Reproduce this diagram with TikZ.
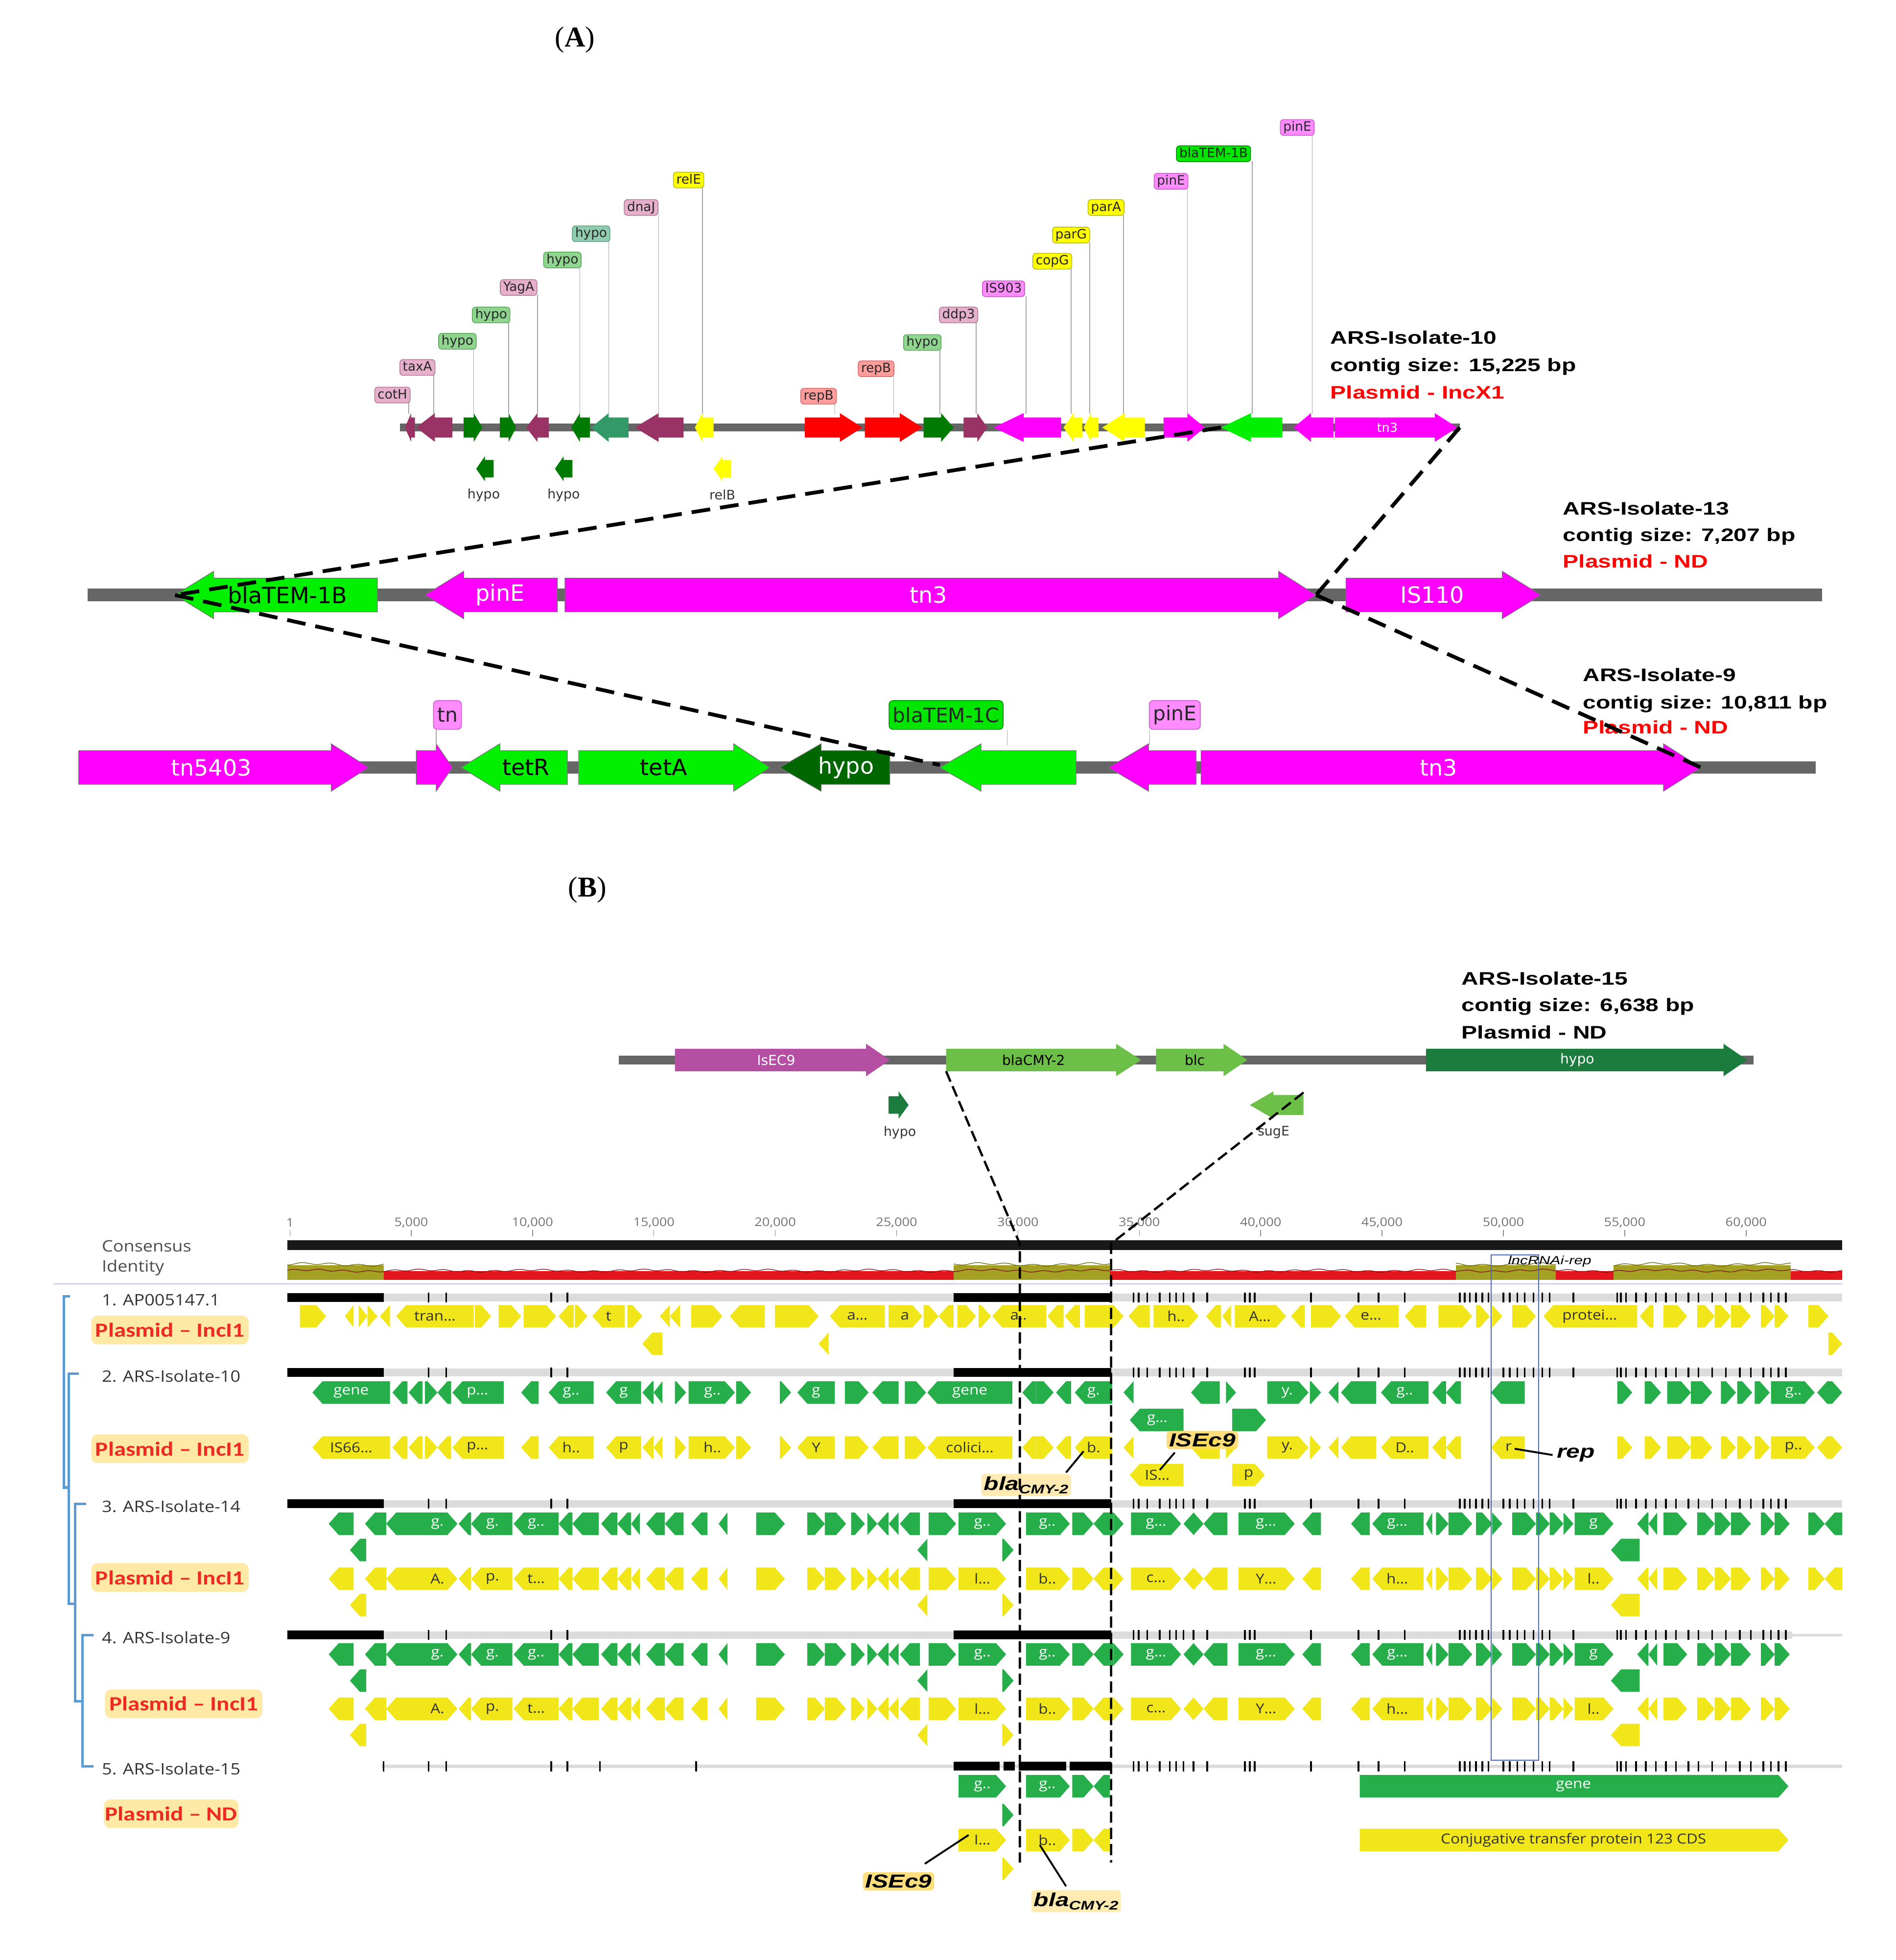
\documentclass[tikz,border=0pt]{standalone}
\usepackage{fontspec}
\setmainfont{Liberation Serif}
\newfontfamily\labfont{DejaVu Sans}
\newfontfamily\isofont[FakeStretch=1.3]{Liberation Sans}
\newfontfamily\gfont[FakeStretch=1.12]{Open Sans}
\newfontfamily\tagfont[FakeStretch=1.2]{Carlito}
\usetikzlibrary{calc}

% panel A colours
\definecolor{bbgrey}{HTML}{666666}
\definecolor{gmaroon}{HTML}{993366}
\definecolor{gdkgreen}{HTML}{007A00}
\definecolor{ghypo}{HTML}{006600}
\definecolor{gteal}{HTML}{339966}
\definecolor{gyellow}{HTML}{FFFF00}
\definecolor{gred}{HTML}{FF0000}
\definecolor{gmagenta}{HTML}{FF00FF}
\definecolor{glime}{HTML}{00F000}
\definecolor{labpink}{HTML}{E6B0CC}\definecolor{labpinkd}{HTML}{B07A96}
\definecolor{labgreen}{HTML}{8FD48F}\definecolor{labgreend}{HTML}{5AA85A}
\definecolor{labteal}{HTML}{8FCCB0}\definecolor{labteald}{HTML}{5A9C80}
\definecolor{labyellow}{HTML}{FFFF00}\definecolor{labyellowd}{HTML}{B8B800}
\definecolor{labred}{HTML}{FF9C9C}\definecolor{labredd}{HTML}{E06666}
\definecolor{labmag}{HTML}{FF8CFF}\definecolor{labmagd}{HTML}{CC55CC}
\definecolor{lablime}{HTML}{00E600}\definecolor{lablimed}{HTML}{008800}
\definecolor{isored}{HTML}{FF0000}
% panel B colours
\definecolor{bIs}{HTML}{B44FA4}
\definecolor{bCmy}{HTML}{6CBF47}
\definecolor{bHypo}{HTML}{1C7C3E}
\definecolor{cdsY}{HTML}{F0E619}
\definecolor{cdsG}{HTML}{26AE4B}
\definecolor{seqgrey}{HTML}{DCDCDC}
\definecolor{idred}{HTML}{E3161E}
\definecolor{idolive}{HTML}{A3A024}
\definecolor{treeblue}{HTML}{5B9BD5}
\definecolor{tagbg}{HTML}{FFE9A6}
\definecolor{tagred}{HTML}{EE2A24}
\definecolor{callbg}{HTML}{FFD966}
\definecolor{boxblue}{HTML}{4A66B8}

% gene arrows: x1, x2, y, half body, half head, head length, style
\newcommand{\fgene}[7]{\path[#7] (#1,#3-#4) -- (#2-#6,#3-#4) -- (#2-#6,#3-#5) -- (#2,#3) -- (#2-#6,#3+#5) -- (#2-#6,#3+#4) -- (#1,#3+#4) -- cycle;}
\newcommand{\rgene}[7]{\path[#7] (#2,#3-#4) -- (#1+#6,#3-#4) -- (#1+#6,#3-#5) -- (#1,#3) -- (#1+#6,#3+#5) -- (#1+#6,#3+#4) -- (#2,#3+#4) -- cycle;}
% alignment annotations: x1, x2, y, r/l, colour
\newcommand{\cds}[5]{%
  \pgfmathsetmacro\cdstip{min(8,#2-#1)}%
  \if r#4\relax
    \fill[#5] (#1,#3-9) -- (#2-\cdstip,#3-9) -- (#2,#3) -- (#2-\cdstip,#3+9) -- (#1,#3+9) -- cycle;
  \else
    \fill[#5] (#2,#3-9) -- (#1+\cdstip,#3-9) -- (#1,#3) -- (#1+\cdstip,#3+9) -- (#2,#3+9) -- cycle;
  \fi}
% sequence bar ticks
\newcommand{\seqticks}[1]{%
  \foreach \t in {343,357,441,454,907,911,918,928,936,941,947,955,966,996,1000,1004,1049,1087,1103,1124,1168,1172,1176,1181,1186,1191,1203,1208,1214,1220,1227,1234,1240,1259,1294,1297,1301,1309,1317,1325,1333,1341,1351,1359,1370,1381,1392,1401,1411,1417,1423,1429}
    {\fill[black] (\t-0.7,#1-4) rectangle (\t+0.7,#1+4);}}

\begin{document}
\begin{tikzpicture}[x=1pt,y=-1pt,>=latex,
	zoomline/.style={black,line width=3pt,dash pattern=on 15pt off 8pt},
	cutline/.style={black,line width=1.8pt,dash pattern=on 9pt off 4pt},
	pin/.style={draw=gray!70,line width=0.6pt},
	agene/.style={draw=black!55,line width=0.5pt},
	lbl/.style={draw,rounded corners=2.5pt,inner xsep=2.3pt,inner ysep=1.2pt,line width=0.6pt,
		text height=8pt,text depth=2.2pt,font=\labfont\fontsize{10.3}{11}\selectfont,text=black!85},
	biglbl/.style={draw,rounded corners=3pt,inner xsep=3pt,line width=0.6pt,minimum height=23pt,
		font=\labfont\fontsize{16}{17}\selectfont,text=black!85},
	pinklab/.style={fill=labpink,draw=labpinkd},
	greenlab/.style={fill=labgreen,draw=labgreend},
	teallab/.style={fill=labteal,draw=labteald},
	yellab/.style={fill=labyellow,draw=labyellowd},
	redlab/.style={fill=labred,draw=labredd},
	maglab/.style={fill=labmag,draw=labmagd},
	limelab/.style={fill=lablime,draw=lablimed},
	intxt/.style={font=\labfont\fontsize{18}{20}\selectfont},
	smalltxt/.style={font=\labfont\fontsize{10.5}{11}\selectfont,text=black!80},
	isotxt/.style={anchor=base west,font=\isofont\bfseries\fontsize{14.5}{17}\selectfont},
	ruler/.style={font=\gfont\fontsize{9.5}{10}\selectfont,text=black!55},
	tracklab/.style={anchor=west,font=\gfont\fontsize{12.6}{14}\selectfont,text=black!80},
	glab/.style={font=\gfont\fontsize{11}{12}\selectfont,text=white},
	ylab/.style={font=\gfont\fontsize{11}{12}\selectfont,text=black!80},
	plastag/.style={fill=tagbg,rounded corners=5pt,minimum width=126pt,minimum height=23pt,inner sep=1pt,
		font=\tagfont\bfseries\fontsize{16}{17}\selectfont,text=tagred},
	callout/.style={fill=callbg,fill opacity=0.85,text opacity=1,rounded corners=3pt,inner sep=2pt,
		font=\isofont\bfseries\itshape\fontsize{15}{16}\selectfont},
	tree/.style={draw=treeblue,line width=2pt},
]
\useasboundingbox (0,0) rectangle (1517,1568);

%%%%%%%%%%%%%%%%%%%% (A)
\node[font=\fontsize{23}{25}\selectfont] (titleA) at (460,32) {(\textbf{A})};

% ARS-Isolate-10
\draw[bbgrey,line width=6pt] (320,342) -- (1168,342);
\foreach \a/\b/\h/\c in {644/690/18/gred, 692/738/18/gred, 739/763/10/gdkgreen, 771/790/8/gmaroon,
	931/964/14/gmagenta, 1068/1166/18/gmagenta, 371/386/7/gdkgreen, 400/413/6/gdkgreen}
	{\fgene{\a}{\b}{342}{8}{11.5}{\h}{fill=\c}}
\foreach \a/\b/\h/\c in {324/332/5/gmaroon, 333/362/15/gmaroon, 421/439/9/gmaroon, 457/472/7/gdkgreen,
	473/503/14/gteal, 508/547/19/gmaroon, 556/571/6/gyellow, 795/849/24/gmagenta, 851/866/8/gyellow,
	867/879/6/gyellow, 882/916/18/gyellow, 977/1026/24/glime, 1035/1067/14/gmagenta}
	{\rgene{\a}{\b}{342}{8}{11.5}{\h}{fill=\c}}
\node[font=\labfont\fontsize{10}{11}\selectfont,text=white] (tnthree) at (1110,342) {tn3};
% genes on the second strand
\foreach \a/\b/\c in {381/395/gdkgreen, 444/458/gdkgreen, 571/585/gyellow}
	{\rgene{\a}{\b}{375}{7}{10}{7}{fill=\c}}
\node[smalltxt] (hypoA) at (387,396) {hypo};
\node[smalltxt] (hypoB) at (451,396) {hypo};
\node[smalltxt] (relB) at (578,396) {relB};
% gene tags
\foreach \cx/\cy/\lx/\txt/\sty [count=\i] in {314/316/327/cotH/pinklab, 334/294/347/taxA/pinklab,
	366/273/379/hypo/greenlab, 393/252/407/hypo/greenlab, 415/230/430/YagA/pinklab,
	450/208/464/hypo/greenlab, 473/187/487/hypo/teallab, 513/166/527/dnaJ/pinklab,
	551/144/562/relE/yellab, 655/317/668/repB/redlab, 701/295/715/repB/redlab,
	738/274/752/hypo/greenlab, 767/252/781/ddp3/pinklab, 803/231/821/IS903/maglab,
	842/209/857/copG/yellab, 857/188/872/parG/yellab, 885/166/899/parA/yellab,
	937/145/950/pinE/maglab, 971/123/1002/blaTEM-1B/limelab, 1038/102/1050/pinE/maglab}{
	\draw[pin] (\lx,\cy+6) -- (\lx,331);
	\node[lbl,\sty] (tag\i) at (\cx,\cy) {\txt};
}
\node[isotxt] (tenName) at (1061,275) {ARS-Isolate-10};
\node[isotxt] (tenSize) at (1061,297) {contig size: 15,225 bp};
\node[isotxt,text=isored] (tenInc) at (1061,319) {Plasmid - IncX1};

% ARS-Isolate-13
\draw[bbgrey,line width=10pt] (70,476) -- (1458,476);
\rgene{140}{302}{476}{13.5}{19}{31}{agene,fill=glime}
\rgene{340}{446}{476}{13.5}{19}{31}{agene,fill=gmagenta}
\fgene{452}{1053}{476}{13.5}{19}{30}{agene,fill=gmagenta}
\fgene{1077}{1233}{476}{13.5}{19}{31}{agene,fill=gmagenta}
\node[intxt] (thirTemTxt) at (230,476) {blaTEM-1B};
\node[intxt,text=white] (thirPinTxt) at (400,476) {pinE};
\node[intxt,text=white] (thirTnTxt) at (743,476) {tn3};
\node[intxt,text=white] (thirIsTxt) at (1146,476) {IS110};
\node[isotxt] (thirName) at (1247,412) {ARS-Isolate-13};
\node[isotxt] (thirSize) at (1247,433) {contig size: 7,207 bp};
\node[isotxt,text=isored] (thirInc) at (1247,454) {Plasmid - ND};

% ARS-Isolate-9
\draw[bbgrey,line width=10pt] (63,614) -- (1453,614);
\fgene{63}{295}{614}{13.5}{19}{30}{agene,fill=gmagenta}
\fgene{333}{362}{614}{13.5}{19}{13}{agene,fill=gmagenta}
\rgene{369}{454}{614}{13.5}{19}{31}{agene,fill=glime}
\fgene{463}{616}{614}{13.5}{19}{29}{agene,fill=glime}
\rgene{624}{712}{614}{13.5}{19}{33}{agene,fill=ghypo}
\rgene{752}{861}{614}{13.5}{19}{33}{agene,fill=glime}
\rgene{887}{957}{614}{13.5}{19}{32}{agene,fill=gmagenta}
\fgene{961}{1361}{614}{13.5}{19}{30}{agene,fill=gmagenta}
\node[intxt,text=white] (nineTnTxt) at (169,614) {tn5403};
\node[intxt] (nineTetR) at (421,614) {tetR};
\node[intxt] (nineTetA) at (531,614) {tetA};
\node[intxt,text=white] (nineHypo) at (677,614) {hypo};
\node[intxt,text=white] (nineTnThree) at (1151,614) {tn3};
\foreach \cx/\lx/\txt/\sty [count=\i] in {358/349/tn/maglab, 757/806/blaTEM-1C/limelab, 940/920/pinE/maglab}{
	\draw[pin] (\lx,584) -- (\lx,596);
	\node[biglbl,\sty] (nineTag\i) at (\cx,572) {\txt};
}
\node[isotxt] (nineName) at (1263,545) {ARS-Isolate-9};
\node[isotxt] (nineSize) at (1263,567) {contig size: 10,811 bp};
\node[isotxt,text=isored] (nineInc) at (1263,587) {Plasmid - ND};

% zoom lines between the contigs
\coordinate (tenTem) at (977,342);
\coordinate (tenEnd) at (1168,342);
\coordinate (thirTem) at (140,476);
\coordinate (thirTn) at (1053,476);
\coordinate (nineTem) at (752,612);
\coordinate (nineTn) at (1361,614);
\draw[zoomline] (tenTem) -- (thirTem);
\draw[zoomline] (tenEnd) -- (thirTn);
\draw[zoomline] (thirTem) -- (nineTem);
\draw[zoomline] (thirTn) -- (nineTn);

%%%%%%%%%%%%%%%%%%%% (B)
\node[font=\fontsize{23}{25}\selectfont] (titleB) at (470,712) {(\textbf{B})};

% ARS-Isolate-15
\draw[bbgrey,line width=7pt] (495,848) -- (1403,848);
\fgene{540}{712}{848}{9}{13}{19}{fill=bIs}
\fgene{757}{913}{848}{9}{13}{20}{fill=bCmy}
\fgene{925}{998}{848}{9}{13}{19}{fill=bCmy}
\fgene{1141}{1398}{848}{9}{13}{19}{fill=bHypo}
\fgene{711}{727}{884}{7}{11}{8}{fill=bHypo}
\rgene{1000}{1043}{884}{8}{11}{19}{fill=bCmy}
\node[font=\labfont\fontsize{11}{12}\selectfont,text=white] (fifIs) at (621,848) {IsEC9};
\node[font=\labfont\fontsize{11}{12}\selectfont] (fifCmy) at (827,848) {blaCMY-2};
\node[font=\labfont\fontsize{11}{12}\selectfont] (fifBlc) at (956,848) {blc};
\node[font=\labfont\fontsize{11}{12}\selectfont,text=white] (fifHypo) at (1262,848) {hypo};
\node[smalltxt] (fifHypoS) at (720,906) {hypo};
\node[smalltxt] (fifSugE) at (1019,906) {sugE};
\node[isotxt] (fifName) at (1166,788) {ARS-Isolate-15};
\node[isotxt] (fifSize) at (1166,809) {contig size: 6,638 bp};
\node[isotxt] (fifInc) at (1166,831) {Plasmid - ND};

% ruler, consensus and identity
\node[ruler] (r1) at (232,978) {1};
\draw[black!45,line width=0.6pt] (232,984) -- (232,989);
\foreach \k [evaluate={\rx=329+(\k-5)*97.1/5}] in {5,10,...,60}{
	\node[ruler] (r\k) at (\rx,978) {\k,000};
	\draw[black!45,line width=0.6pt] (\rx,984) -- (\rx,989);
}
\fill[black!90] (230,992) rectangle (1474,1000);
\fill[idred] (230,1017) rectangle (1474,1024);
\foreach \a/\b in {230/307, 763/888, 1165/1245, 1291/1433}
	{\fill[idolive] (\a,1012) rectangle (\b,1024);}
\draw[idred!55!black,line width=0.5pt] plot[domain=230:1474,samples=500]
	(\x,{1016.5+1.3*sin(11*\x)*cos(7*\x)});
\foreach \a/\b in {230/307, 763/888, 1165/1245, 1291/1433}
	{\draw[idolive!60!black,line width=0.5pt] plot[domain=\a:\b,samples=120]
		(\x,{1011.5+1.5*sin(10*\x)*cos(6*\x)});}
\node[tracklab,text=black!70] (cons) at (78,997) {Consensus};
\node[tracklab,text=black!70] (ident) at (78,1014) {Identity};
\draw[blue!25,line width=1pt] (43,1027) -- (1474,1027);

% sequences
\foreach \y in {1038,1098,1203,1308}{
	\fill[seqgrey] (230,\y-3) rectangle (1474,\y+3);
	\fill[black] (230,\y-3.5) rectangle (307,\y+3.5);
	\fill[black] (763,\y-3.5) rectangle (889,\y+3.5);
	\seqticks{\y}
}
\fill[white] (1434,1304) rectangle (1475,1312);
\draw[seqgrey,line width=2pt] (1434,1308) -- (1474,1308);
\fill[seqgrey] (305,1411.5) rectangle (1474,1414.5);
\foreach \a/\b in {763/800, 803/812, 815/853, 856/889}
	{\fill[black] (\a,1409.5) rectangle (\b,1416.5);}
\seqticks{1413}
\foreach \t in {307,557,480}
	{\fill[black] (\t-0.6,1409) rectangle (\t+0.6,1417);}

% 1. AP005147.1
\foreach \a/\b/\d in {240/261/r, 276/283/l, 287/294/r, 294/302/r, 304/312/l, 317/379/l, 380/393/r,
	399/417/r, 419/445/r, 447/459/l, 460/470/r, 474/500/l, 502/514/r, 528/536/l, 536/544/l, 553/578/r,
	584/612/l, 620/655/r, 664/708/l, 711/738/r, 739/751/r, 751/763/l, 766/781/r, 783/793/r, 794/837/l,
	838/851/l, 852/864/l, 868/899/r, 903/920/l, 923/959/r, 965/977/l, 978/985/l, 988/1029/r,
	1033/1044/l, 1049/1073/r, 1076/1119/l, 1124/1141/l, 1151/1178/r, 1181/1192/r, 1194/1202/r,
	1210/1229/r, 1235/1310/l, 1312/1323/l, 1331/1350/r, 1358/1372/r, 1372/1385/r, 1385/1401/r,
	1409/1420/r, 1420/1431/r, 1447/1463/r}
	{\cds{\a}{\b}{1053}{\d}{cdsY}}
\foreach \a/\b/\d in {514/530/l, 655/663/l, 1463/1474/r}
	{\cds{\a}{\b}{1075}{\d}{cdsY}}
\foreach \x/\t in {348/tran…, 487/t, 686/a…, 724/a, 815/a.., 941/h.., 1008/A…, 1097/e…, 1272/protei…}
	{\node[ylab] (one-\x) at (\x,1053) {\t};}

% 2. ARS-Isolate-10
\foreach \y/\c in {1114/cdsG, 1158/cdsY}{
	\foreach \a/\b/\d in {250/312/l, 314/326/l, 327/338/l, 340/350/r, 350/361/l, 362/403/l, 417/431/l,
		439/475/l, 485/513/l, 514/523/l, 523/530/l, 540/549/r, 551/588/r, 589/601/r, 624/633/r,
		638/668/l, 676/695/r, 698/719/l, 724/741/r, 742/810/l, 818/829/l, 829/843/r, 845/857/l,
		860/890/l, 899/907/l, 953/976/l, 981/989/r, 1014/1047/r, 1048/1057/r, 1063/1071/l,
		1073/1101/l, 1105/1143/l, 1146/1157/l, 1157/1169/l, 1193/1220/l, 1294/1306/r, 1316/1329/r,
		1334/1353/r, 1353/1370/r, 1377/1389/r, 1390/1402/r, 1404/1416/r, 1417/1452/r, 1454/1463/l,
		1463/1474/r}
		{\cds{\a}{\b}{\y}{\d}{\c}}
}
\cds{904}{947}{1136}{l}{cdsG}
\cds{986}{1013}{1136}{r}{cdsG}
\cds{904}{947}{1180}{l}{cdsY}
\cds{986}{1012}{1180}{r}{cdsY}
\foreach \x/\t in {281/gene, 382/p…, 457/g.., 499/g, 570/g.., 653/g, 776/gene, 875/g., 1030/y., 1124/g.., 1435/g.., 926/g…}
	{\node[glab] (twoG-\x) at (\x,{\x==926 ? 1136 : 1114}) {\t};}
\foreach \x/\t in {281/IS66…, 382/p…, 457/h.., 499/p, 570/h.., 653/Y, 776/colici…, 875/b., 1030/y., 1124/D.., 1207/r, 1435/p..}
	{\node[ylab] (twoY-\x) at (\x,1158) {\t};}
\node[ylab] (twoIS) at (926,1180) {IS…};
\node[ylab] (twoP) at (999,1180) {p};

% 3. ARS-Isolate-14 and 4. ARS-Isolate-9
\foreach \g/\yy in {1219/1263, 1323.5/1367}{
	\foreach \y/\c in {\g/cdsG, \yy/cdsY}{
		\foreach \a/\b/\d in {263/283/l, 292/309/l, 309/333/l, 333/366/r, 367/377/l, 377/410/l, 411/447/l,
			447/458/l, 458/479/l, 481/494/l, 494/505/l, 505/512/l, 517/532/l, 532/547/l, 553/566/l,
			575/582/l, 605/628/r, 646/660/r, 660/677/r, 681/692/r, 694/702/r, 702/711/l, 711/719/l,
			720/736/l, 743/765/r, 767/805/r, 821/856/r, 858/875/r, 875/891/l, 891/899/r, 905/945/r,
			947/955/l, 955/963/r, 963/982/l, 991/1036/r, 1042/1057/l, 1081/1096/l, 1098/1139/l,
			1141/1146/l, 1149/1159/r, 1159/1178/r, 1181/1194/r, 1194/1202/r, 1210/1229/r, 1229/1240/r,
			1240/1251/r, 1251/1259/r, 1260/1291/r, 1310/1319/l, 1319/1326/l, 1331/1350/r, 1358/1372/r,
			1372/1385/r, 1385/1401/r, 1409/1420/r, 1420/1432/r}
			{\cds{\a}{\b}{\y}{\d}{\c}}
		\foreach \a/\b/\d in {280/293/l, 734/742/l, 802/811/r, 1289/1312/l}
			{\cds{\a}{\b}{\y+21}{\d}{\c}}
	}
	\foreach \x/\t in {350/g., 394/g., 429/g.., 786/g.., 838/g.., 925/g…, 1013/g…, 1118/g…, 1275/g}
		{\node[glab] at (\x,\g) {\t};}
	\foreach \x/\t in {350/A., 394/p., 429/t…, 786/l…, 838/b.., 925/c…, 1013/Y…, 1118/h…, 1275/l..}
		{\node[ylab] at (\x,\yy) {\t};}
}
\foreach \y/\c in {1219/cdsG, 1263/cdsY}{
	\cds{1447}{1460}{\y}{r}{\c}
	\cds{1460}{1474}{\y}{l}{\c}
}

% 5. ARS-Isolate-15
\foreach \y/\c in {1429/cdsG, 1472/cdsY}{
	\foreach \a/\b/\d in {767/805/r, 821/856/r, 858/875/r, 875/888/l, 1088/1431/r}
		{\cds{\a}{\b}{\y}{\d}{\c}}
	\cds{802}{811}{\y+23}{r}{\c}
}
\node[glab] (fiveG1) at (786,1429) {g..};
\node[glab] (fiveG2) at (838,1429) {g..};
\node[glab] (fiveGene) at (1259,1429) {gene};
\node[ylab] (fiveY1) at (786,1472) {I…};
\node[ylab] (fiveY2) at (838,1472) {b..};
\node[ylab] (fiveConj) at (1259,1472) {Conjugative transfer protein 123 CDS};

% track names and plasmid types
\node[tracklab] (trA) at (78,1040) {1. AP005147.1};
\node[tracklab] (trB) at (78,1101) {2. ARS-Isolate-10};
\node[tracklab] (trC) at (78,1205) {3. ARS-Isolate-14};
\node[tracklab] (trD) at (78,1310) {4. ARS-Isolate-9};
\node[tracklab] (trE) at (78,1415) {5. ARS-Isolate-15};
\node[plastag] (incA) at (136,1064) {Plasmid – IncI1};
\node[plastag] (incB) at (136,1159) {Plasmid – IncI1};
\node[plastag] (incC) at (136,1262) {Plasmid – IncI1};
\node[plastag] (incD) at (147,1363) {Plasmid – IncI1};
\node[plastag,minimum width=106pt] (incE) at (137,1451) {Plasmid – ND};

% tree
\draw[tree] (56,1037) -- (51,1037) -- (51,1190) -- (55,1190);
\draw[tree] (63,1099) -- (55,1099) -- (55,1283) -- (60,1283);
\draw[tree] (69,1203) -- (60,1203) -- (60,1361) -- (66,1361);
\draw[tree] (75,1308) -- (66,1308) -- (66,1413) -- (75,1413);

% lncRNAi-rep region
\draw[boxblue,line width=0.8pt] (1193,1004) rectangle (1231,1408);
\node[font=\isofont\itshape\fontsize{9.5}{10}\selectfont] (lnc) at (1240,1009) {lncRNAi-rep};

% call-outs
\node[callout] (isMid) at (962,1152) {ISEc9};
\node[callout,fill=callbg!60] (blaMid) at (821,1188) {bla\raisebox{-0.35ex}{\fontsize{10}{10}\selectfont CMY-2}};
\node[font=\isofont\bfseries\itshape\fontsize{15}{16}\selectfont] (rep) at (1261,1164) {rep};
\node[callout] (isLow) at (719,1505) {ISEc9};
\node[callout,fill=callbg!60] (blaLow) at (861,1521) {bla\raisebox{-0.35ex}{\fontsize{10}{10}\selectfont CMY-2}};
\coordinate (isMidEnd) at (928,1176);
\coordinate (blaMidEnd) at (867,1161);
\coordinate (repEnd) at (1212,1159);
\coordinate (isLowEnd) at (775,1468);
\coordinate (blaLowEnd) at (832,1476);
\draw[line width=1.5pt] (940,1162) -- (isMidEnd);
\draw[line width=1.5pt] (853,1178) -- (blaMidEnd);
\draw[line width=1.5pt] (rep.west) -- (repEnd);
\draw[line width=1.5pt] (740,1491) -- (isLowEnd);
\draw[line width=1.5pt] (853,1509) -- (blaLowEnd);

% region of blaCMY-2 in the alignment
\coordinate (cmyStart) at (757,857);
\coordinate (sugEnd) at (1043,874);
\coordinate (cutL) at (816,995);
\coordinate (cutR) at (889,995);
\coordinate (cutLend) at (816,1490);
\coordinate (cutRend) at (889,1490);
\draw[cutline] (cmyStart) -- (cutL) -- (cutLend);
\draw[cutline] (sugEnd) -- (cutR) -- (cutRend);
\end{tikzpicture}
\end{document}
